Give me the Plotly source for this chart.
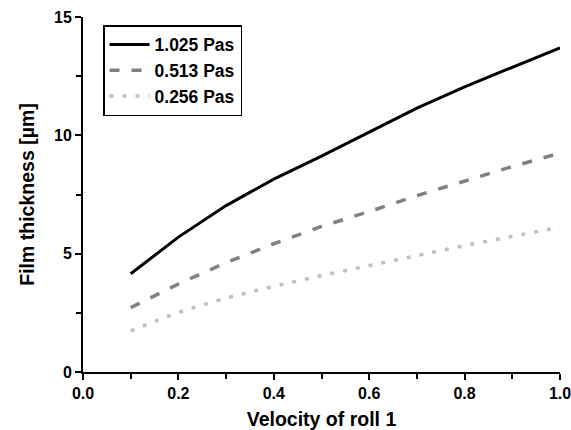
import plotly.graph_objects as go

velocity = [0.1, 0.2, 0.3, 0.4, 0.5, 0.6, 0.7, 0.8, 0.9, 1.0]
h_1025 = [4.15, 5.70, 7.03, 8.15, 9.12, 10.14, 11.15, 12.05, 12.88, 13.70]
h_0513 = [2.72, 3.72, 4.62, 5.42, 6.15, 6.78, 7.45, 8.08, 8.68, 9.25]
h_0256 = [1.74, 2.52, 3.13, 3.62, 4.07, 4.50, 4.94, 5.34, 5.73, 6.12]
series_names = ["1.025 Pas", "0.513 Pas", "0.256 Pas"]
x_ticks = [0.0, 0.2, 0.4, 0.6, 0.8, 1.0]
y_ticks = [0, 5, 10, 15]

font_family = "Liberation Sans, Arial, sans-serif"

fig = go.Figure()
styles = [
    dict(color="#000000", width=3, dash="solid"),
    dict(color="#808080", width=3.5, dash="10px,12px"),
    dict(color="#c0c0c0", width=3.5, dash="4px,9px"),
]
for name, ys, st in zip(series_names, [h_1025, h_0513, h_0256], styles):
    fig.add_trace(go.Scatter(x=velocity, y=ys, mode="lines", name=name, line=st))

axis_common = dict(
    showline=True, linecolor="black", linewidth=2, mirror=False,
    ticks="outside", ticklen=6, tickwidth=2, tickcolor="black",
    showgrid=False, zeroline=False, automargin=False,
    ticklabeloverflow="allow",
    tickfont=dict(family=font_family, size=16, color="black", weight="bold"),
)

fig.update_layout(
    width=571, height=430,
    margin=dict(l=83, r=11, t=17, b=58),
    paper_bgcolor="white", plot_bgcolor="white",
    font=dict(family=font_family, color="black"),
    xaxis=dict(
        range=[0, 1.0], tickvals=x_ticks, ticktext=[f"{v:.1f}" for v in x_ticks],
        title=dict(text="<b>Velocity of roll 1</b>", font=dict(size=19.5), standoff=12),
        minor=dict(ticks="outside", ticklen=5, tickwidth=2, tickcolor="black", dtick=0.1, tick0=0),
        **axis_common,
    ),
    yaxis=dict(
        range=[0, 15], tickvals=y_ticks,
        title=dict(text="<b>Film thickness [µm]</b>", font=dict(size=19.5), standoff=14),
        minor=dict(ticks="outside", ticklen=5, tickwidth=2, tickcolor="black", dtick=2.5, tick0=0),
        **axis_common,
    ),
    legend=dict(
        x=0.042, y=0.977, xanchor="left", yanchor="top",
        bordercolor="black", borderwidth=1.5, bgcolor="white",
        font=dict(family=font_family, size=17.5, color="black", weight="bold"),
        tracegroupgap=0, itemwidth=40,
    ),
    showlegend=True,
)

fig.write_html(
    "out.html",
    config={"displayModeBar": False},
    post_script="document.body.style.margin='0px';",
)
